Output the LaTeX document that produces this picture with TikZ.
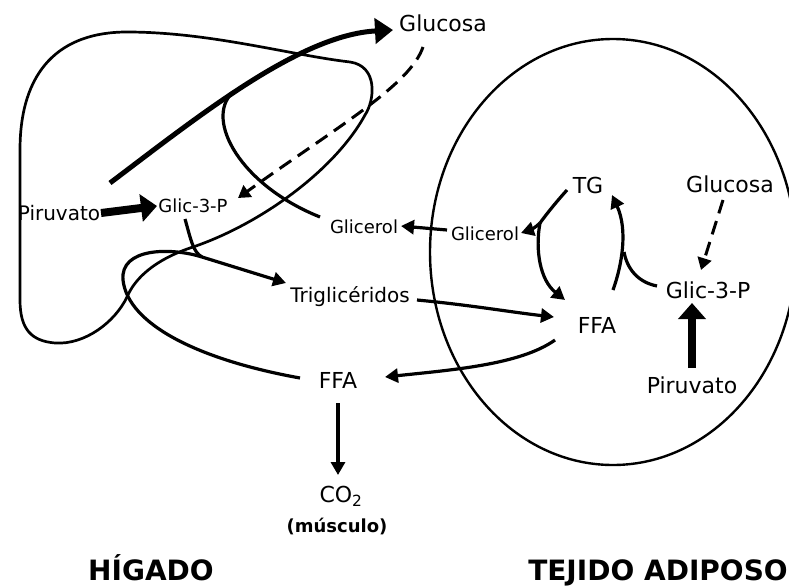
\documentclass[tikz,border=0pt]{standalone}
\usepackage{fontspec}
\setmainfont{DejaVu Sans}
\usetikzlibrary{arrows.meta}
\begin{document}
\begin{tikzpicture}[x=1pt,y=-1pt,
  lbl/.style={inner sep=0pt, anchor=base, font=\fontsize{22}{24}\selectfont},
  lblm/.style={inner sep=0pt, anchor=base, font=\fontsize{20}{22}\selectfont},
  lbls/.style={inner sep=0pt, anchor=base, font=\fontsize{18}{20}\selectfont},
  lblb/.style={inner sep=0pt, anchor=base, font=\fontsize{18}{20}\selectfont\bfseries},
  title/.style={inner sep=0pt, anchor=base, font=\fontsize{28}{30}\selectfont\bfseries},
  outline/.style={line width=2.7pt, line join=round},
  conn/.style={line width=3.2pt, -{Triangle[length=13pt,width=14pt]}},
  plain/.style={line width=3.2pt},
  dashconn/.style={line width=3pt, dash pattern=on 14pt off 8pt, -{Triangle[length=12pt,width=14pt]}},
  fat/.style={line width=5pt, -{Triangle[length=18pt,width=25pt]}},
  fatter/.style={line width=8pt, -{Triangle[length=16pt,width=27pt]}}
]
\useasboundingbox (0,0) rectangle (789,586);

% liver outline
\draw[outline] (20,300) -- (20,150)
  .. controls (20,70) and (60,32) .. (127,32)
  .. controls (210,32) and (290,55) .. (350,62)
  .. controls (378,66) and (375,100) .. (365,115)
  .. controls (335,170) and (260,225) .. (190,248)
  .. controls (155,260) and (135,278) .. (127,297)
  .. controls (115,322) and (85,345) .. (55,343)
  .. controls (32,341) and (20,330) .. (20,300) -- cycle;

% adipose tissue
\draw[line width=2.4pt] (613,252) ellipse [x radius=183, y radius=213];

% labels
\node[lbl]  (glucT) at (443,32)  {Glucosa};
\node[lblm] (pirL)  at (59,220)  {Piruvato};
\node[lbls] (g3pL)  at (193,212) {Glic-3-P};
\node[lbls] (glicL) at (364,233) {Glicerol};
\node[lbls] (glicA) at (485,240) {Glicerol};
\node[lblm] (trig)  at (350,302) {Triglicéridos};
\node[lbl]  (tg)    at (588,193) {TG};
\node[lbl]  (glucA) at (730,192) {Glucosa};
\node[lbl]  (g3pA)  at (708,298) {Glic-3-P};
\node[lbl]  (ffaA)  at (597,333) {FFA};
\node[lbl]  (pirA)  at (692,393) {Piruvato};
\node[lbl]  (ffaL)  at (338,388) {FFA};
\node[lbl]  (co2)   at (341,502) {CO\textsubscript{2}};
\node[lblb] (musc)  at (337,532) {(músculo)};
\node[title] (hig)  at (151,580) {HÍGADO};
\node[title] (tej)  at (658,580) {TEJIDO ADIPOSO};

% coordinates for free ends / junctions
\coordinate (pyrStart) at (110,183);
\coordinate (joinTop)  at (232,93);
\coordinate (glyStart) at (320,217);
\coordinate (jLiver)   at (202,257);
\coordinate (ffaLoopStart) at (300,378);
\coordinate (tgSplit)  at (540,223);
\coordinate (jAdip)    at (624,252);

% liver pathways
\draw[fat] (pyrStart) .. controls (200,115) and (300,35) .. (393,30);
\draw[plain] (glyStart) .. controls (240,185) and (205,120) .. (joinTop);
\draw[dashconn] (423,47) .. controls (410,85) and (340,125) .. (238,198);
\draw[fatter] (101,213) -- (157,206);
\draw[plain] (185,219) .. controls (191,240) and (193,252) .. (jLiver);
\draw[conn] (jLiver) -- (286,283);
\draw[plain] (ffaLoopStart) .. controls (200,360) and (128,325) .. (123,280)
   .. controls (120,248) and (170,247) .. (jLiver);

% exchange between tissues
\draw[conn] (447,230) -- (401,226);
\draw[conn] (417,300) .. controls (470,305) and (510,312) .. (554,317);
\draw[conn] (555,340) .. controls (520,365) and (450,370) .. (385,377);
\draw[conn] (338,403) -- (338,475);

% adipose pathways
\draw[plain] (567,190) .. controls (558,200) and (548,212) .. (tgSplit);
\draw[conn] (tgSplit) .. controls (535,228) and (530,230) .. (521,233);
\draw[conn] (tgSplit) .. controls (535,250) and (540,280) .. (565,300);
\draw[conn] (613,290) .. controls (622,265) and (628,230) .. (612,195);
\draw[plain] (657,286) .. controls (637,282) and (627,268) .. (jAdip);
\draw[dashconn] (723,200) -- (701,270);
\draw[fatter] (692,368) -- (692,303);
\end{tikzpicture}
\end{document}
